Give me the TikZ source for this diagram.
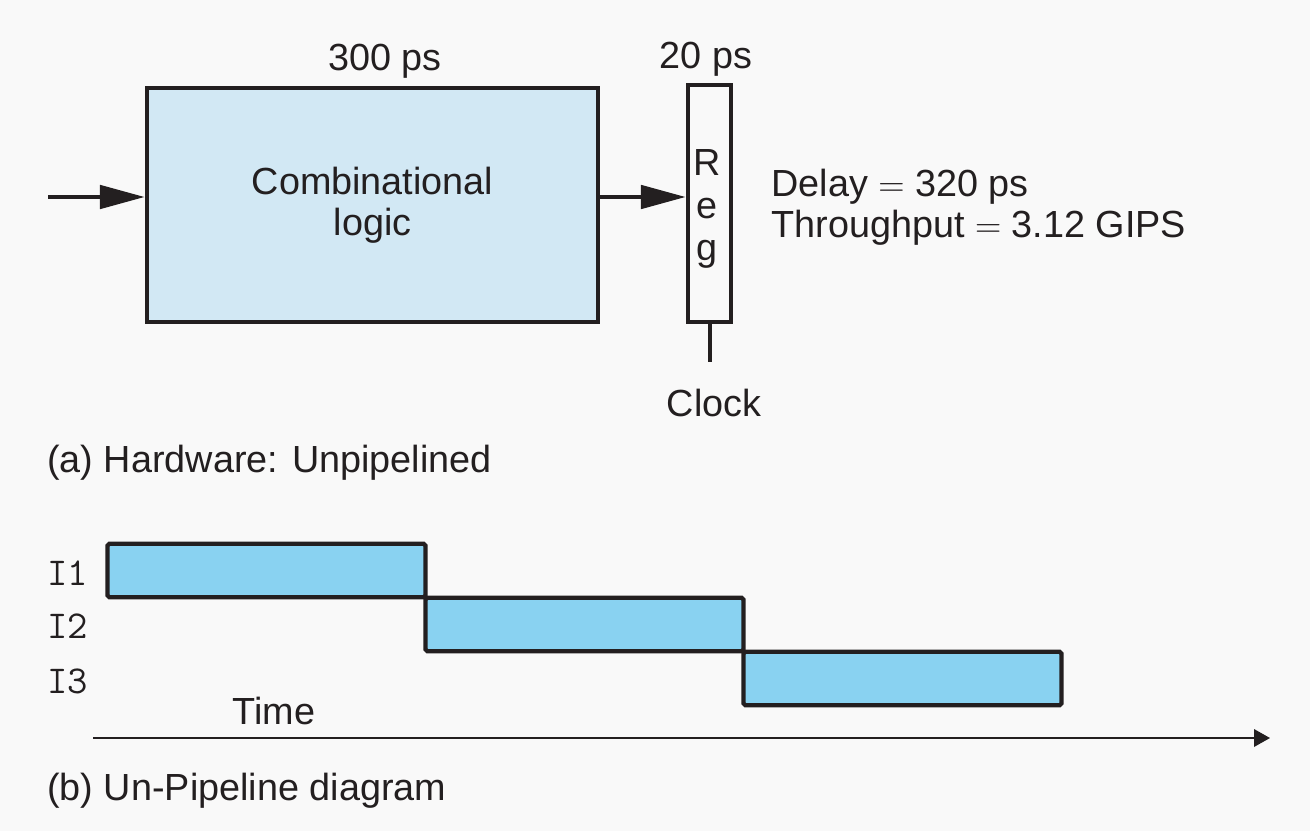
\documentclass[tikz,border=0pt]{standalone}
\usepackage{fontspec}
\setmainfont{Liberation Sans}
\usetikzlibrary{arrows.meta,positioning}
\definecolor{pagegray}{HTML}{F9F9F9}
\definecolor{logicblue}{HTML}{D2E8F4}
\definecolor{stageblue}{HTML}{89D2F1}
\definecolor{inkblack}{HTML}{231F20}

\begin{document}
\begin{tikzpicture}[x=0.02cm,y=-0.02cm,
              lbl/.style={font=\fontsize{21.5}{23.3}\selectfont, text=inkblack, inner sep=0pt},
              mono/.style={font=\fontsize{22.5}{24}\selectfont\ttfamily, text=inkblack, inner sep=0pt},
              logicbox/.style={draw=inkblack, line width=2.4pt, fill=logicblue, minimum width=9.02cm, minimum height=4.68cm, align=center},
              regbox/.style={draw=inkblack, line width=2.4pt, minimum width=0.86cm, minimum height=4.74cm},
              stagebox/.style={draw=inkblack, line width=2.4pt, fill=stageblue, rounded corners=1pt, minimum width=6.36cm, minimum height=1.07cm},
              wire/.style={line width=2.8pt, inkblack, -{Triangle[length=0.9cm, width=0.46cm]}},
              timeaxis/.style={line width=1.1pt, inkblack, -{Triangle[length=0.32cm, width=0.35cm]}},
             ]

% page
\fill[pagegray] (0,0) rectangle (1310,831);
\useasboundingbox (0,0) rectangle (1310,831);

% (a) hardware
\node[logicbox, lbl, text=inkblack] (comb) at (372.5,205) {Combinational\\logic};
\node[regbox] (reg) at (709.5,203.5) {};
\node[lbl, align=center, font=\fontsize{21.5}{24.4}\selectfont] (regtxt) at (707,209) {R\\e\\g};
\coordinate (in) at (48,197);
\coordinate (clk) at (710,362);

\draw[wire] (in) -- (in -| comb.west);
\draw[wire] (in -| comb.east) -- (in -| reg.west);
\draw[line width=1.8pt, inkblack] (reg.south -| clk) -- (clk);

\node[lbl, above=0.14cm of comb, xshift=0.25cm] (lat300) {300 ps};
\node[lbl, above=0.12cm of reg, xshift=-0.07cm] (lat20) {20 ps};
\node[lbl, below=0.54cm of clk, xshift=0.08cm] (clock) {Clock};
\node[lbl, align=left, anchor=west] (perf) at (771,207) {Delay $=$ 320 ps\\Throughput $=$ 3.12 GIPS};
\node[lbl, anchor=base west] (capa) at (47,472) {(a) Hardware: Unpipelined};

% (b) pipeline diagram
\foreach \k/\cx/\cy/\by in {1/266.5/570.5/585, 2/584.5/624.5/638, 3/902.5/678.5/693}{
  \node[stagebox] (stage\k) at (\cx,\cy) {};
  \node[mono, anchor=base west] (instr\k) at (47,\by) {I\k};
}
\coordinate (t0) at (93,738);
\coordinate (t1) at (1270,738);
\draw[timeaxis] (t0) -- (t1);
\node[lbl, anchor=base] (time) at (274,724) {Time};
\node[lbl, anchor=base west] (capb) at (47,800) {(b) Un-Pipeline diagram};
\end{tikzpicture}
\end{document}
